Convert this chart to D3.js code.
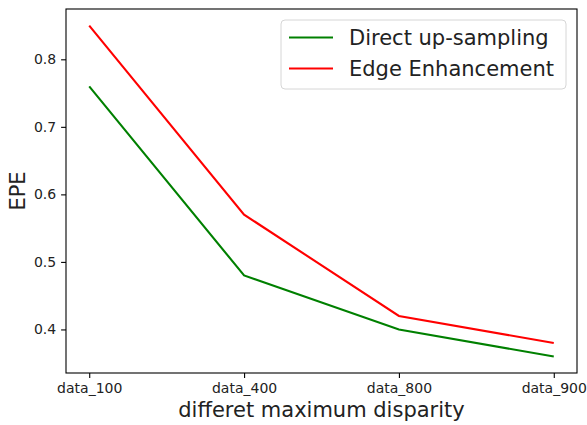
<!DOCTYPE html>
<html>
<head>
<meta charset="utf-8">
<script src="https://cdn.jsdelivr.net/npm/d3@7"></script>
<style>
  body { margin: 0; background: #fff; }
  svg { font-family: "DejaVu Sans", sans-serif; }
</style>
</head>
<body>
<svg id="chart" width="587" height="425"></svg>
<script>
var categories = ["data_100", "data_400", "data_800", "data_900"];
var directUpsampling = [0.76, 0.48, 0.40, 0.36];
var edgeEnhancement = [0.85, 0.57, 0.42, 0.38];
var yTicks = [0.4, 0.5, 0.6, 0.7, 0.8];

var series = [
    {name: "Direct up-sampling", values: directUpsampling, color: "#008000"},
    {name: "Edge Enhancement", values: edgeEnhancement, color: "#ff0000"}
];

var svg = d3.select('#chart');
var plot = {left: 66, right: 577, top: 9, bottom: 373};

// matplotlib style 5% margins around the data
var allVals = directUpsampling.concat(edgeEnhancement);
var lo = d3.min(allVals), hi = d3.max(allVals), pad = (hi - lo) * 0.05;

var x = d3.scalePoint().domain(categories).range([plot.left, plot.right]).padding(0.15);
var y = d3.scaleLinear().domain([lo - pad, hi + pad]).range([plot.bottom, plot.top]);

// lines
var line = d3.line()
    .x(function(d, i) { return x(categories[i]); })
    .y(function(d) { return y(d); });

series.forEach(function(s) {
    svg.append('path')
        .datum(s.values)
        .attr('fill', 'none')
        .attr('stroke', s.color)
        .attr('stroke-width', 2.1)
        .attr('d', line);
});

// axes
var xAxis = svg.append('g')
    .attr('transform', 'translate(0,' + plot.bottom + ')')
    .call(d3.axisBottom(x).tickSize(4.9).tickPadding(4.9));
var yAxis = svg.append('g')
    .attr('transform', 'translate(' + plot.left + ',0)')
    .call(d3.axisLeft(y).tickValues(yTicks).tickFormat(d3.format('.1f')).tickSize(4.9).tickPadding(4.9));

[xAxis, yAxis].forEach(function(g) {
    g.select('.domain').remove();
    g.selectAll('.tick line').attr('stroke', '#000').attr('stroke-width', 1.1);
    g.selectAll('.tick text')
        .attr('fill', '#222')
        .style('font-size', '14px')
        .style('font-family', '"DejaVu Sans", sans-serif');
});

// frame
svg.append('rect')
    .attr('x', plot.left)
    .attr('y', plot.top)
    .attr('width', plot.right - plot.left)
    .attr('height', plot.bottom - plot.top)
    .attr('fill', 'none')
    .attr('stroke', '#000')
    .attr('stroke-width', 1.1);

// axis labels
svg.append('text')
    .attr('x', (plot.left + plot.right) / 2)
    .attr('y', 417)
    .attr('text-anchor', 'middle')
    .attr('fill', '#222')
    .style('font-size', '21px')
    .text('differet maximum disparity');

svg.append('text')
    .attr('transform', 'translate(25,' + ((plot.top + plot.bottom) / 2) + ') rotate(-90)')
    .attr('text-anchor', 'middle')
    .attr('fill', '#222')
    .style('font-size', '21px')
    .text('EPE');

// legend
var legend = svg.append('g');
legend.append('rect')
    .attr('x', 281).attr('y', 20)
    .attr('width', 285).attr('height', 69)
    .attr('rx', 4)
    .attr('fill', '#fff').attr('fill-opacity', 0.8)
    .attr('stroke', '#d6d6d6');

series.forEach(function(s, i) {
    var ly = 37.5 + i * 31;
    legend.append('line')
        .attr('x1', 289).attr('x2', 333)
        .attr('y1', ly).attr('y2', ly)
        .attr('stroke', s.color).attr('stroke-width', 2.1);
    legend.append('text')
        .attr('x', 349).attr('y', ly)
        .attr('dy', '0.36em')
        .attr('fill', '#222')
        .style('font-size', '21px')
        .text(s.name);
});
</script>
</body>
</html>
